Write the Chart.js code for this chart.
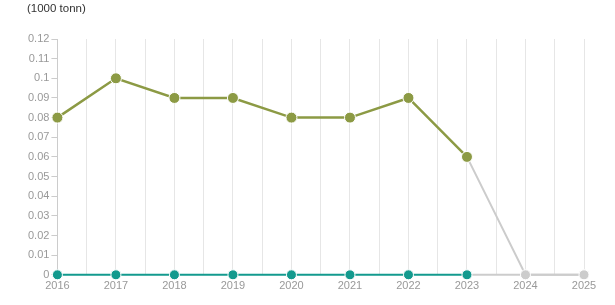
<!DOCTYPE html>
<html>
<head>
<meta charset="utf-8">
<script src="https://cdn.jsdelivr.net/npm/chart.js@4/dist/chart.umd.min.js"></script>
<style>
  html, body { margin: 0; padding: 0; background: #fff; }
  #wrap { position: relative; width: 615px; height: 305px; }
  #unit { position: absolute; left: 27px; top: 2px; font: 11.5px "Liberation Sans", Arial, sans-serif; color: #333; }
  canvas { position: absolute; left: 0; top: 0; }
</style>
</head>
<body>
<div id="wrap">
  <canvas id="c" width="615" height="305"></canvas>
  <div id="unit">(1000 tonn)</div>
</div>
<script>
const years = [2016, 2017, 2018, 2019, 2020, 2021, 2022, 2023, 2024, 2025];
const seriesA = [0.08, 0.1, 0.09, 0.09, 0.08, 0.08, 0.09, 0.06, null, null];
const forecastA = [null, null, null, null, null, null, null, 0.06, 0, 0];
const seriesB = [0, 0, 0, 0, 0, 0, 0, 0, null, null];
const forecastB = [null, null, null, null, null, null, null, 0, 0, 0];
const yTicks = [0, 0.01, 0.02, 0.03, 0.04, 0.05, 0.06, 0.07, 0.08, 0.09, 0.1, 0.11, 0.12];

const OLIVE = '#8c9a44';
const TEAL = '#139a8e';
const GREY = '#cccccc';
const FONT = '"Liberation Sans Narrow", "Liberation Sans", Arial, sans-serif';

function pts(arr) { return years.map((y, i) => ({ x: y, y: arr[i] })); }

const forecastRadius = ctx => (ctx.dataIndex === 7 ? 0 : 5);

new Chart(document.getElementById('c'), {
  type: 'line',
  data: {
    datasets: [
      { data: pts(forecastB), borderColor: GREY, backgroundColor: GREY, pointBorderColor: '#fff', pointBorderWidth: 1, borderWidth: 2, pointRadius: forecastRadius, order: 4 },
      { data: pts(forecastA), borderColor: GREY, backgroundColor: GREY, pointBorderColor: '#fff', pointBorderWidth: 1, borderWidth: 2, pointRadius: forecastRadius, order: 3 },
      { data: pts(seriesB), borderColor: TEAL, backgroundColor: TEAL, pointBorderColor: '#fff', pointBorderWidth: 1, borderWidth: 2, pointRadius: 5, order: 2 },
      { data: pts(seriesA), borderColor: OLIVE, backgroundColor: OLIVE, pointBorderColor: '#fff', pointBorderWidth: 1, borderWidth: 2.5, pointRadius: 5.5, order: 1 }
    ]
  },
  options: {
    responsive: false,
    animation: false,
    clip: false,
    layout: { padding: { top: 39, right: 31, bottom: 7, left: 26 } },
    plugins: { legend: { display: false }, tooltip: { enabled: false } },
    scales: {
      x: {
        type: 'linear',
        min: years[0],
        max: years[years.length - 1],
        afterBuildTicks: axis => {
          const t = [];
          for (let i = 0; i < years.length; i++) {
            t.push({ value: years[i] });
            if (i < years.length - 1) t.push({ value: years[i] + 0.5 });
          }
          axis.ticks = t;
        },
        ticks: {
          autoSkip: false,
          maxRotation: 0,
          padding: 5,
          color: '#999',
          font: { family: FONT, size: 11 },
          callback: v => (Number.isInteger(v) ? String(v) : '')
        },
        grid: { color: '#e6e6e6', lineWidth: 1, drawTicks: false },
        border: { display: false }
      },
      y: {
        type: 'linear',
        min: 0,
        max: 0.12,
        afterBuildTicks: axis => { axis.ticks = yTicks.map(v => ({ value: v })); },
        ticks: {
          padding: 2,
          color: '#999',
          font: { family: FONT, size: 11 },
          callback: v => String(Math.round(v * 100) / 100)
        },
        grid: { drawOnChartArea: false, drawTicks: true, tickLength: 6, color: '#ccc' },
        border: { display: true, color: '#ccc' }
      }
    }
  }
});
</script>
</body>
</html>
